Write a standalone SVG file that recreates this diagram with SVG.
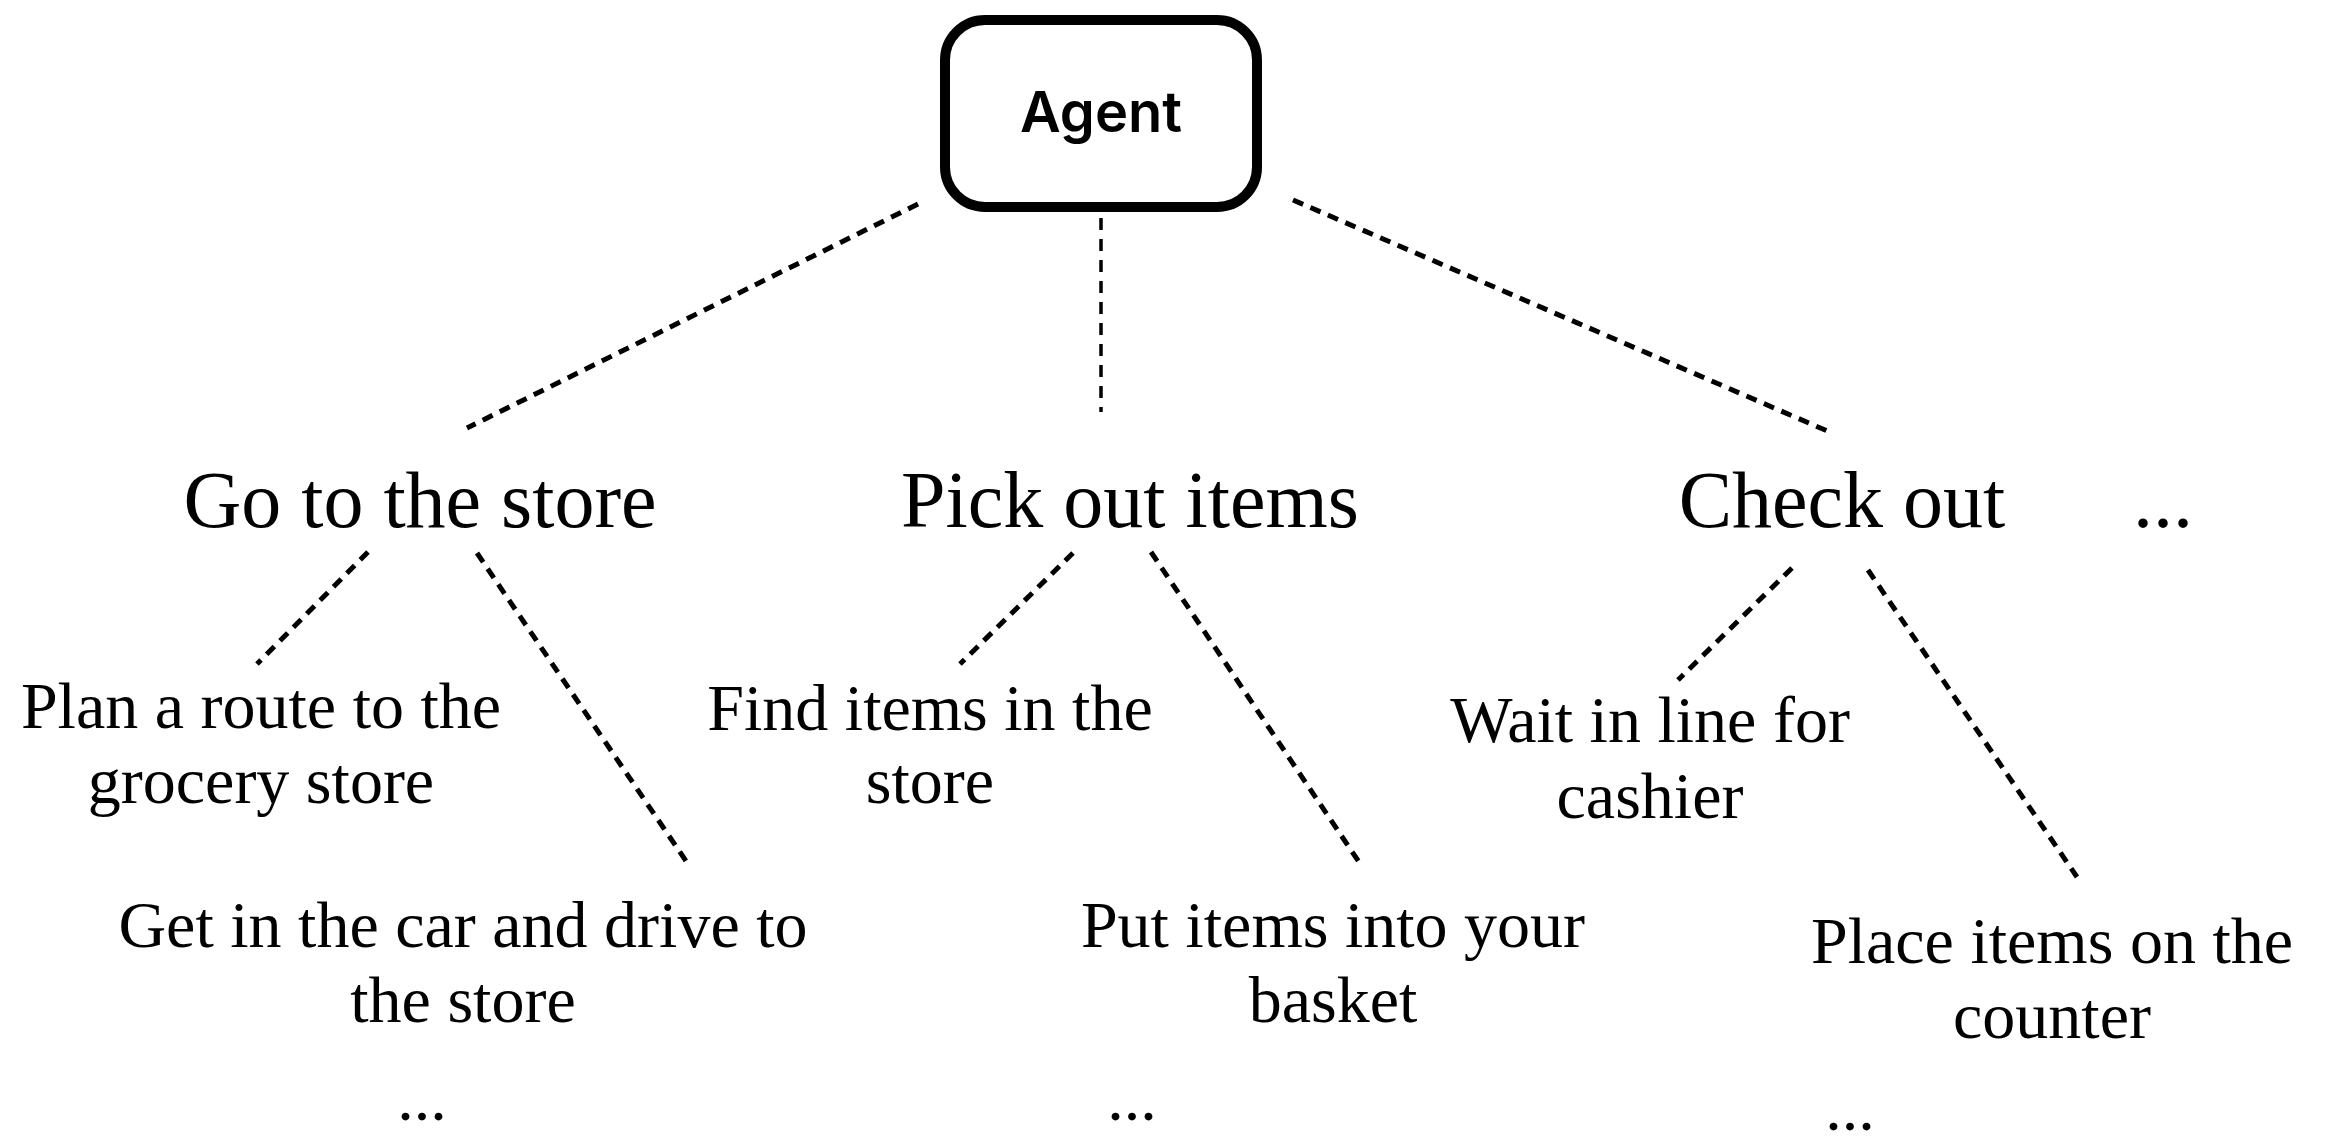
<svg xmlns="http://www.w3.org/2000/svg" width="2329" height="1136" viewBox="0 0 2329 1136">
  <style>
    .bg { fill: #ffffff; }
    .box { fill: #ffffff; stroke: #000000; stroke-width: 10; }
    .agent { font-family: Inter, "Liberation Sans", sans-serif; font-weight: 600; font-size: 56px; fill: #000000; text-anchor: middle; }
    .task { font-family: "Liberation Serif", "Times New Roman", serif; font-size: 80px; fill: #000000; text-anchor: middle; }
    .step { font-family: "Liberation Serif", "Times New Roman", serif; font-size: 66px; fill: #000000; text-anchor: middle; }
    .link { fill: none; stroke: #000000; stroke-width: 5; stroke-dasharray: 11 8; }
    .link-thin { fill: none; stroke: #000000; stroke-width: 3.5; stroke-dasharray: 12 9; }
  </style>
  <rect class="bg" x="0" y="0" width="2329" height="1136"/>

  <!-- dashed connectors of the task tree -->
  <g id="connectors">
    <line class="link" x1="918" y1="204" x2="467" y2="428"/>
    <line class="link-thin" x1="1101" y1="218" x2="1101" y2="412"/>
    <line class="link" x1="1293" y1="200" x2="1832" y2="433"/>

    <line class="link" x1="368" y1="552" x2="257" y2="664"/>
    <line class="link" x1="477" y1="553" x2="686" y2="861"/>

    <line class="link" x1="1073" y1="553" x2="960" y2="664"/>
    <line class="link" x1="1151" y1="552" x2="1359" y2="862"/>

    <line class="link" x1="1792" y1="568" x2="1678" y2="680"/>
    <line class="link" x1="1868" y1="570" x2="2077" y2="877"/>
  </g>

  <!-- root -->
  <g id="agent">
    <rect class="box" x="945" y="20" width="312" height="187" rx="40" ry="40"/>
    <text class="agent" x="1101" y="132">Agent</text>
  </g>

  <!-- top-level tasks -->
  <g id="go-to-store">
    <text class="task" x="420" y="527">Go to the store</text>
  </g>
  <g id="pick-out-items">
    <text class="task" x="1130" y="527">Pick out items</text>
  </g>
  <g id="check-out">
    <text class="task" x="1842" y="527">Check out</text>
  </g>
  <g id="more-tasks">
    <text class="task" x="2133" y="527" style="text-anchor:start">...</text>
  </g>

  <!-- steps under "Go to the store" -->
  <g id="plan-route">
    <text class="step" x="261" y="728">Plan a route to the</text>
    <text class="step" x="261" y="803">grocery store</text>
  </g>
  <g id="drive">
    <text class="step" x="463" y="947">Get in the car and drive to</text>
    <text class="step" x="463" y="1022">the store</text>
  </g>
  <g id="more-go">
    <text class="step" x="422" y="1120">...</text>
  </g>

  <!-- steps under "Pick out items" -->
  <g id="find-items">
    <text class="step" x="930" y="730">Find items in the</text>
    <text class="step" x="930" y="803">store</text>
  </g>
  <g id="put-items">
    <text class="step" x="1333" y="947">Put items into your</text>
    <text class="step" x="1333" y="1022">basket</text>
  </g>
  <g id="more-pick">
    <text class="step" x="1132" y="1120">...</text>
  </g>

  <!-- steps under "Check out" -->
  <g id="wait-in-line">
    <text class="step" x="1650" y="742">Wait in line for</text>
    <text class="step" x="1650" y="818">cashier</text>
  </g>
  <g id="place-items">
    <text class="step" x="2052" y="963">Place items on the</text>
    <text class="step" x="2052" y="1038">counter</text>
  </g>
  <g id="more-check">
    <text class="step" x="1850" y="1130">...</text>
  </g>
</svg>
